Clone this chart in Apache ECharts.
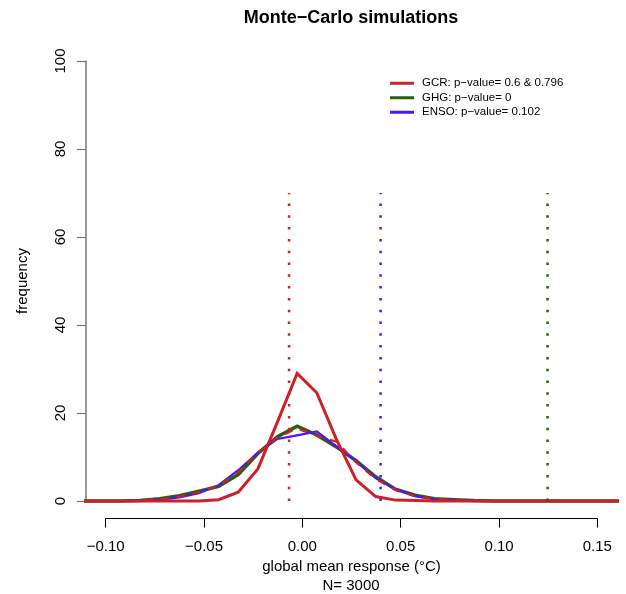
<!DOCTYPE html>
<html>
<head>
<meta charset="utf-8">
<script src="https://cdn.jsdelivr.net/npm/echarts@6/dist/echarts.min.js"></script>
<style>html,body{margin:0;padding:0;background:#fff}#c{width:626px;height:594px}</style>
</head>
<body>
<div id="c"></div>
<script>
// bin mid-points (global mean response, °C)
const mids = [-0.1125,-0.1025,-0.0925,-0.0825,-0.0725,-0.0625,-0.0525,-0.0425,-0.0325,-0.0225,-0.0125,-0.0025,0.0075,0.0175,0.0275,0.0375,0.0475,0.0575,0.0675,0.0775,0.0875,0.0975,0.1075,0.1175,0.1275,0.1375,0.1475,0.1575,0.1675];
// frequencies (%)
const gcrNarrow = [0,0,0,0,0,0,0,0.3,2.0,7.3,18.0,29.0,24.6,14.0,4.8,1.0,0.2,0.1,0,0,0,0,0,0,0,0,0,0,0];
const gcrBroad  = [0,0,0,0.1,0.4,1.0,2.0,3.5,6.5,11.0,14.4,16.5,14.8,13.5,8.8,5.0,2.5,1.1,0.5,0.2,0.1,0,0,0,0,0,0,0,0];
const ghg       = [0,0,0,0.1,0.5,1.2,2.2,3.3,6.0,10.8,14.6,17.0,15.0,12.3,9.2,5.5,2.7,1.3,0.5,0.3,0.1,0,0,0,0,0,0,0,0];
const enso      = [0,0,0,0.1,0.3,0.8,1.8,3.6,7.0,11.0,14.1,14.9,15.8,12.4,9.0,5.2,2.7,1.1,0.4,0.2,0.1,0,0,0,0,0,0,0,0];
// observed responses (vertical dotted lines)
const markerNames = ['GCR obs','ENSO obs','GHG obs'];
const markerX = [-0.0066, 0.040, 0.125];
const markerTop = 70;
const legendNames = ['GCR: p\u2212value= 0.6 & 0.796','GHG: p\u2212value= 0','ENSO: p\u2212value= 0.102'];

const RED = '#cd2027', GREEN = '#2d5e0e', BLUE = '#4a14ff';
const FONT = "'Liberation Sans', Arial, Helvetica, sans-serif";

const pair = ys => mids.map((m, i) => [m, ys[i]]);
const fmt = v => Math.abs(v) < 1e-9 ? '0.00' : v.toFixed(2).replace('-', '\u2212');

const chart = echarts.init(document.getElementById('c'));
const lineSeries = (name, ys, color, width, type, z) => ({
  name, type: 'line', xAxisIndex: 0, yAxisIndex: 0, data: pair(ys),
  symbol: 'none', silent: true, animation: false, z,
  lineStyle: { color, width, type, cap: 'butt', join: 'miter' },
  itemStyle: { color }
});
const markerColors = [RED, BLUE, GREEN];
const markers = markerX.map((x, i) => ({
  name: markerNames[i], type: 'line', xAxisIndex: 0, yAxisIndex: 0,
  data: [[x, 0], [x, markerTop]], symbol: 'none', silent: true, animation: false, z: 10,
  lineStyle: { color: markerColors[i], width: 2.5, type: [2.5, 9.3], cap: 'butt' }
}));

chart.setOption({
  backgroundColor: '#fff',
  animation: false,
  textStyle: { fontFamily: FONT },
  graphic: [
    { type: 'text', x: 351, y: 18, style: { text: 'Monte\u2212Carlo simulations', font: 'bold 18px ' + FONT, fill: '#000', align: 'center', verticalAlign: 'middle' } },
    { type: 'text', x: 351, y: 586, style: { text: 'N= 3000', font: '15px ' + FONT, fill: '#000', align: 'center', verticalAlign: 'middle' } }
  ],
  legend: {
    data: legendNames.map(n => ({ name: n, icon: 'rect' })),
    orient: 'vertical', left: 390, top: 77, padding: 0, itemWidth: 24, itemHeight: 3, itemGap: 2,
    selectedMode: false,
    textStyle: { fontSize: 11.5, fontFamily: FONT, color: '#000', lineHeight: 12.5, padding: [0, 0, 0, 3] }
  },
  grid: [
    { left: 86, right: 9.7, top: 43.4, bottom: 75.4, containLabel: false },
    { left: 86, right: 9.7, top: 61, bottom: 93, containLabel: false },
    { left: 105.7, right: 28.7, top: 43.4, bottom: 75.4, containLabel: false }
  ],
  xAxis: [
    { gridIndex: 0, type: 'value', min: -0.11, max: 0.16, show: false },
    { gridIndex: 1, type: 'value', min: 0, max: 1, show: false },
    { gridIndex: 2, type: 'value', min: -0.1, max: 0.15, interval: 0.05, position: 'bottom',
      axisLine: { show: true, onZero: false, lineStyle: { color: '#000', width: 1 } },
      axisTick: { show: true, length: 9, lineStyle: { color: '#000' } },
      axisLabel: { formatter: fmt, fontSize: 15, color: '#000', margin: 21, fontFamily: FONT },
      splitLine: { show: false },
      name: 'global mean response (\u00B0C)', nameLocation: 'middle', nameGap: 33,
      nameTextStyle: { fontSize: 15, color: '#000', fontFamily: FONT } }
  ],
  yAxis: [
    { gridIndex: 0, type: 'value', min: -4, max: 104, show: false },
    { gridIndex: 1, type: 'value', min: 0, max: 100, interval: 20, position: 'left',
      axisLine: { show: true, onZero: false, lineStyle: { color: '#777', width: 1.5 } },
      axisTick: { show: true, length: 9, lineStyle: { color: '#777', width: 1.2 } },
      axisLabel: { rotate: 90, fontSize: 15, color: '#000', margin: 18, fontFamily: FONT },
      splitLine: { show: false },
      name: 'frequency', nameLocation: 'middle', nameGap: 56, nameRotate: 90,
      nameTextStyle: { fontSize: 15, color: '#000', fontFamily: FONT } },
    { gridIndex: 2, type: 'value', min: 0, max: 1, show: false }
  ],
  series: [
    lineSeries(legendNames[1], ghg, GREEN, 3.5, 'solid', 2),
    lineSeries(legendNames[2], enso, BLUE, 2.2, 'solid', 3),
    lineSeries('GCR (broad)', gcrBroad, RED, 2.2, [8, 8], 4),
    lineSeries(legendNames[0], gcrNarrow, RED, 3, 'solid', 5),
    ...markers
  ]
});
</script>
</body>
</html>
